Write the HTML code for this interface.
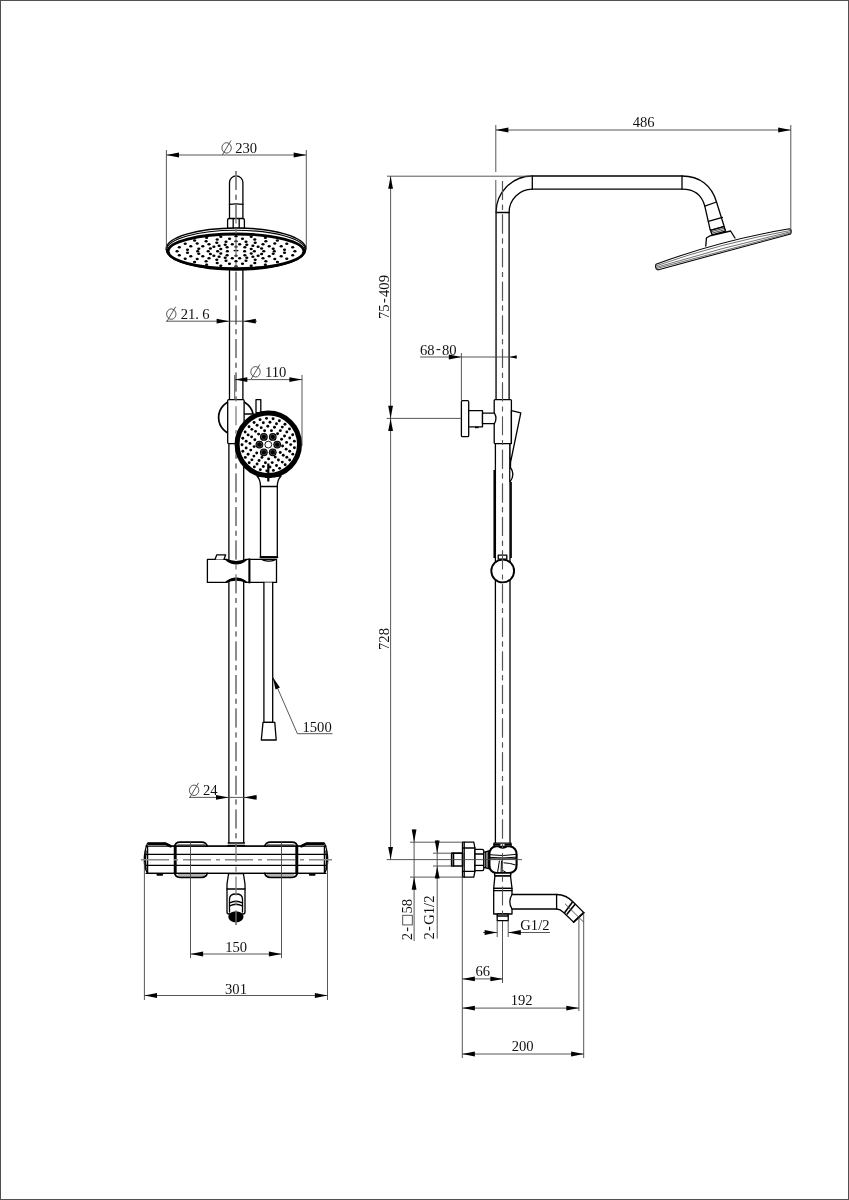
<!DOCTYPE html>
<html><head><meta charset="utf-8"><title>Shower column drawing</title>
<style>
html,body{margin:0;padding:0;background:#fff;}
body{width:849px;height:1200px;overflow:hidden;position:relative;font-family:"Liberation Serif",serif;}
svg{position:absolute;left:0;top:0;display:block;will-change:transform}
.o{fill:none;stroke:#000;stroke-width:1.3;stroke-linejoin:round;stroke-linecap:round}
.ow{fill:#fff;stroke:#000;stroke-width:1.3;stroke-linejoin:round;stroke-linecap:round}
.t{fill:none;stroke:#000;stroke-width:2.1;stroke-linejoin:round;stroke-linecap:round}
.tw{fill:#fff;stroke:#000;stroke-width:2.1;stroke-linejoin:round}
.d{fill:none;stroke:#444;stroke-width:0.9}
.c{fill:none;stroke:#7a7a7a;stroke-width:1.25;stroke-dasharray:19 4.8 5 4.8}
.c2{fill:none;stroke:#555;stroke-width:1.1;stroke-dasharray:19 4.8 5 4.8}
.ch{fill:none;stroke:#888;stroke-width:1.5;stroke-dasharray:28 5 4 5}
.a{fill:#000;stroke:none}
.k{fill:#000;stroke:none}
text{font-family:"Liberation Serif",serif;font-size:14.6px;fill:#111}
</style></head><body>
<svg width="849" height="1200" viewBox="0 0 849 1200">
<rect x="0" y="0" width="849" height="1200" fill="#fff"/>
<path d="M0 0H849V1200H0Z M1 1V1199H848V1Z" fill="#505050" fill-rule="evenodd" shape-rendering="crispEdges"/>

<g id="front">
<path class="ow" d="M229.5 402 V182.6 A6.7 6.7 0 0 1 242.9 182.6 V402"/>
<path class="ow" d="M228.9 842.6 V440 M243.7 440 V842.6"/>
<path class="o" d="M229.5 204.4 Q236.2 203.4 242.9 204.4"/>
<line class="c" x1="236.00" y1="171.00" x2="236.00" y2="925.00"/>
<circle class="tw" cx="236" cy="417.5" r="17.4" style="stroke-width:1.7"/>
<line class="o" x1="244.00" y1="414.00" x2="252.00" y2="414.00"/>
<rect class="ow" x="227.7" y="399.6" width="16.4" height="44" rx="1"/>
<rect class="ow" x="256" y="399.6" width="4.8" height="13"/>
<path class="ow" d="M257 476 Q260.5 480 260.5 486 V557 H277.3 V486 Q277.3 480 281 476 Z"/>
<line class="o" x1="260.50" y1="486.50" x2="277.30" y2="486.50"/>
<circle cx="268.3" cy="444.3" r="31.2" fill="#fff" stroke="#000" stroke-width="5"/>
<circle class="k" cx="282.53" cy="446.03" r="1.45"/>
<circle class="k" cx="280.24" cy="452.48" r="1.45"/>
<circle class="k" cx="275.21" cy="457.12" r="1.45"/>
<circle class="k" cx="268.60" cy="458.90" r="1.45"/>
<circle class="k" cx="261.92" cy="457.40" r="1.45"/>
<circle class="k" cx="256.70" cy="452.97" r="1.45"/>
<circle class="k" cx="254.14" cy="446.62" r="1.45"/>
<circle class="k" cx="254.83" cy="439.81" r="1.45"/>
<circle class="k" cx="258.60" cy="434.10" r="1.45"/>
<circle class="k" cx="264.59" cy="430.79" r="1.45"/>
<circle class="k" cx="271.43" cy="430.65" r="1.45"/>
<circle class="k" cx="277.56" cy="433.70" r="1.45"/>
<circle class="k" cx="281.56" cy="439.25" r="1.45"/>
<circle class="k" cx="286.13" cy="449.15" r="1.45"/>
<circle class="k" cx="283.28" cy="455.29" r="1.45"/>
<circle class="k" cx="278.41" cy="459.97" r="1.45"/>
<circle class="k" cx="272.17" cy="462.59" r="1.45"/>
<circle class="k" cx="265.41" cy="462.77" r="1.45"/>
<circle class="k" cx="259.04" cy="460.50" r="1.45"/>
<circle class="k" cx="253.92" cy="456.08" r="1.45"/>
<circle class="k" cx="250.75" cy="450.11" r="1.45"/>
<circle class="k" cx="249.94" cy="443.40" r="1.45"/>
<circle class="k" cx="251.61" cy="436.85" r="1.45"/>
<circle class="k" cx="255.54" cy="431.34" r="1.45"/>
<circle class="k" cx="261.19" cy="427.63" r="1.45"/>
<circle class="k" cx="267.80" cy="426.21" r="1.45"/>
<circle class="k" cx="274.48" cy="427.27" r="1.45"/>
<circle class="k" cx="280.32" cy="430.67" r="1.45"/>
<circle class="k" cx="284.54" cy="435.95" r="1.45"/>
<circle class="k" cx="286.57" cy="442.40" r="1.45"/>
<circle class="k" cx="290.70" cy="444.60" r="1.45"/>
<circle class="k" cx="289.70" cy="451.20" r="1.45"/>
<circle class="k" cx="286.81" cy="457.22" r="1.45"/>
<circle class="k" cx="282.27" cy="462.11" r="1.45"/>
<circle class="k" cx="276.48" cy="465.45" r="1.45"/>
<circle class="k" cx="269.97" cy="466.94" r="1.45"/>
<circle class="k" cx="263.32" cy="466.44" r="1.45"/>
<circle class="k" cx="257.10" cy="464.00" r="1.45"/>
<circle class="k" cx="251.88" cy="459.84" r="1.45"/>
<circle class="k" cx="248.12" cy="454.32" r="1.45"/>
<circle class="k" cx="246.15" cy="447.94" r="1.45"/>
<circle class="k" cx="246.15" cy="441.26" r="1.45"/>
<circle class="k" cx="248.12" cy="434.88" r="1.45"/>
<circle class="k" cx="251.88" cy="429.36" r="1.45"/>
<circle class="k" cx="257.10" cy="425.20" r="1.45"/>
<circle class="k" cx="263.32" cy="422.76" r="1.45"/>
<circle class="k" cx="269.97" cy="422.26" r="1.45"/>
<circle class="k" cx="276.48" cy="423.75" r="1.45"/>
<circle class="k" cx="282.27" cy="427.09" r="1.45"/>
<circle class="k" cx="286.81" cy="431.98" r="1.45"/>
<circle class="k" cx="289.70" cy="438.00" r="1.45"/>
<circle class="k" cx="294.41" cy="447.75" r="1.45"/>
<circle class="k" cx="292.81" cy="454.14" r="1.45"/>
<circle class="k" cx="289.66" cy="459.94" r="1.45"/>
<circle class="k" cx="285.18" cy="464.77" r="1.45"/>
<circle class="k" cx="279.63" cy="468.33" r="1.45"/>
<circle class="k" cx="273.37" cy="470.41" r="1.45"/>
<circle class="k" cx="266.80" cy="470.86" r="1.45"/>
<circle class="k" cx="260.31" cy="469.66" r="1.45"/>
<circle class="k" cx="254.33" cy="466.89" r="1.45"/>
<circle class="k" cx="249.23" cy="462.71" r="1.45"/>
<circle class="k" cx="245.33" cy="457.40" r="1.45"/>
<circle class="k" cx="242.86" cy="451.28" r="1.45"/>
<circle class="k" cx="242.00" cy="444.75" r="1.45"/>
<circle class="k" cx="242.79" cy="438.20" r="1.45"/>
<circle class="k" cx="245.18" cy="432.06" r="1.45"/>
<circle class="k" cx="249.03" cy="426.71" r="1.45"/>
<circle class="k" cx="254.08" cy="422.47" r="1.45"/>
<circle class="k" cx="260.03" cy="419.63" r="1.45"/>
<circle class="k" cx="266.50" cy="418.36" r="1.45"/>
<circle class="k" cx="273.08" cy="418.74" r="1.45"/>
<circle class="k" cx="279.36" cy="420.74" r="1.45"/>
<circle class="k" cx="284.95" cy="424.24" r="1.45"/>
<circle class="k" cx="289.49" cy="429.02" r="1.45"/>
<circle class="k" cx="292.70" cy="434.78" r="1.45"/>
<circle class="k" cx="294.37" cy="441.16" r="1.45"/>
<circle cx="277.20" cy="444.60" r="3.9" fill="#000"/>
<circle cx="277.20" cy="444.60" r="2.6" fill="none" stroke="#777" stroke-width="0.6"/>
<circle cx="272.75" cy="452.31" r="3.9" fill="#000"/>
<circle cx="272.75" cy="452.31" r="2.6" fill="none" stroke="#777" stroke-width="0.6"/>
<circle cx="263.85" cy="452.31" r="3.9" fill="#000"/>
<circle cx="263.85" cy="452.31" r="2.6" fill="none" stroke="#777" stroke-width="0.6"/>
<circle cx="259.40" cy="444.60" r="3.9" fill="#000"/>
<circle cx="259.40" cy="444.60" r="2.6" fill="none" stroke="#777" stroke-width="0.6"/>
<circle cx="263.85" cy="436.89" r="3.9" fill="#000"/>
<circle cx="263.85" cy="436.89" r="2.6" fill="none" stroke="#777" stroke-width="0.6"/>
<circle cx="272.75" cy="436.89" r="3.9" fill="#000"/>
<circle cx="272.75" cy="436.89" r="2.6" fill="none" stroke="#777" stroke-width="0.6"/>
<circle cx="268.30" cy="444.60" r="3.4" fill="#fff" stroke="#000" stroke-width="0.9"/>
<path d="M268.3 463.5 V481.5 M265.2 477 H271.4" stroke="#000" stroke-width="2.2" fill="none"/>
<path class="ow" d="M207.4 559.4 H226.5 Q236.2 567.5 246 559.4 H276.5 V582.4 H246 Q236.2 574.5 226.5 582.4 H207.4 Z"/>
<path d="M226 559.6 Q236.2 567.8 246.4 559.6 Q236.2 564 226 559.6Z M226 582.2 Q236.2 574.2 246.4 582.2 Q236.2 577.8 226 582.2Z" fill="#000" stroke="#000" stroke-width="1.6"/>
<line class="t" x1="249.40" y1="559.40" x2="249.40" y2="582.40"/>
<path class="ow" d="M215 559.4 L216.8 554.8 H225.7 L223.9 559.4"/>
<path class="o" d="M262.5 559.8 Q269 562.6 275 559.8"/>
<line class="t" x1="260.50" y1="557.30" x2="277.30" y2="557.30"/>
<path class="ow" d="M263.9 582.4 V722.4 H272.7 V582.4"/>
<path class="ow" d="M263 722.4 H274.8 L276.2 740 H261.3 Z"/>
<path class="ow" d="M227.6 228.4 V220 Q227.6 218.5 229.4 218.5 H242.6 Q244.4 218.5 244.4 220 V228.4 Z"/>
<line class="o" x1="233.20" y1="218.80" x2="233.20" y2="228.00"/>
<line class="o" x1="239.20" y1="218.80" x2="239.20" y2="228.00"/>
<ellipse cx="236" cy="249" rx="69.8" ry="21" fill="#fff" stroke="#000" stroke-width="1.5"/>
<ellipse cx="236" cy="249.9" rx="69.2" ry="19.6" fill="none" stroke="#000" stroke-width="1.1"/>
<ellipse cx="236" cy="251.3" rx="67.9" ry="17.3" fill="#fff" stroke="#000" stroke-width="2.8"/>
<ellipse class="k" cx="242.50" cy="238.65" rx="1.6" ry="1.25"/>
<ellipse class="k" cx="242.50" cy="263.85" rx="1.6" ry="1.25"/>
<ellipse class="k" cx="229.50" cy="238.65" rx="1.6" ry="1.25"/>
<ellipse class="k" cx="229.50" cy="263.85" rx="1.6" ry="1.25"/>
<ellipse class="k" cx="239.70" cy="244.15" rx="1.6" ry="1.25"/>
<ellipse class="k" cx="239.70" cy="258.35" rx="1.6" ry="1.25"/>
<ellipse class="k" cx="232.30" cy="244.15" rx="1.6" ry="1.25"/>
<ellipse class="k" cx="232.30" cy="258.35" rx="1.6" ry="1.25"/>
<ellipse class="k" cx="246.00" cy="241.75" rx="1.6" ry="1.25"/>
<ellipse class="k" cx="246.00" cy="260.75" rx="1.6" ry="1.25"/>
<ellipse class="k" cx="226.00" cy="241.75" rx="1.6" ry="1.25"/>
<ellipse class="k" cx="226.00" cy="260.75" rx="1.6" ry="1.25"/>
<ellipse class="k" cx="246.80" cy="244.65" rx="1.6" ry="1.25"/>
<ellipse class="k" cx="246.80" cy="257.85" rx="1.6" ry="1.25"/>
<ellipse class="k" cx="225.20" cy="244.65" rx="1.6" ry="1.25"/>
<ellipse class="k" cx="225.20" cy="257.85" rx="1.6" ry="1.25"/>
<ellipse class="k" cx="244.90" cy="247.25" rx="1.6" ry="1.25"/>
<ellipse class="k" cx="244.90" cy="255.25" rx="1.6" ry="1.25"/>
<ellipse class="k" cx="227.10" cy="247.25" rx="1.6" ry="1.25"/>
<ellipse class="k" cx="227.10" cy="255.25" rx="1.6" ry="1.25"/>
<ellipse class="k" cx="251.20" cy="236.65" rx="1.6" ry="1.25"/>
<ellipse class="k" cx="251.20" cy="265.85" rx="1.6" ry="1.25"/>
<ellipse class="k" cx="220.80" cy="236.65" rx="1.6" ry="1.25"/>
<ellipse class="k" cx="220.80" cy="265.85" rx="1.6" ry="1.25"/>
<ellipse class="k" cx="254.80" cy="239.55" rx="1.6" ry="1.25"/>
<ellipse class="k" cx="254.80" cy="262.95" rx="1.6" ry="1.25"/>
<ellipse class="k" cx="217.20" cy="239.55" rx="1.6" ry="1.25"/>
<ellipse class="k" cx="217.20" cy="262.95" rx="1.6" ry="1.25"/>
<ellipse class="k" cx="255.20" cy="242.85" rx="1.6" ry="1.25"/>
<ellipse class="k" cx="255.20" cy="259.65" rx="1.6" ry="1.25"/>
<ellipse class="k" cx="216.80" cy="242.85" rx="1.6" ry="1.25"/>
<ellipse class="k" cx="216.80" cy="259.65" rx="1.6" ry="1.25"/>
<ellipse class="k" cx="252.90" cy="245.65" rx="1.6" ry="1.25"/>
<ellipse class="k" cx="252.90" cy="256.85" rx="1.6" ry="1.25"/>
<ellipse class="k" cx="219.10" cy="245.65" rx="1.6" ry="1.25"/>
<ellipse class="k" cx="219.10" cy="256.85" rx="1.6" ry="1.25"/>
<ellipse class="k" cx="251.20" cy="248.95" rx="1.6" ry="1.25"/>
<ellipse class="k" cx="251.20" cy="253.55" rx="1.6" ry="1.25"/>
<ellipse class="k" cx="220.80" cy="248.95" rx="1.6" ry="1.25"/>
<ellipse class="k" cx="220.80" cy="253.55" rx="1.6" ry="1.25"/>
<ellipse class="k" cx="258.10" cy="246.85" rx="1.6" ry="1.25"/>
<ellipse class="k" cx="258.10" cy="255.65" rx="1.6" ry="1.25"/>
<ellipse class="k" cx="213.90" cy="246.85" rx="1.6" ry="1.25"/>
<ellipse class="k" cx="213.90" cy="255.65" rx="1.6" ry="1.25"/>
<ellipse class="k" cx="261.60" cy="248.45" rx="1.6" ry="1.25"/>
<ellipse class="k" cx="261.60" cy="254.05" rx="1.6" ry="1.25"/>
<ellipse class="k" cx="210.40" cy="248.45" rx="1.6" ry="1.25"/>
<ellipse class="k" cx="210.40" cy="254.05" rx="1.6" ry="1.25"/>
<ellipse class="k" cx="265.40" cy="237.65" rx="1.6" ry="1.25"/>
<ellipse class="k" cx="265.40" cy="264.85" rx="1.6" ry="1.25"/>
<ellipse class="k" cx="206.60" cy="237.65" rx="1.6" ry="1.25"/>
<ellipse class="k" cx="206.60" cy="264.85" rx="1.6" ry="1.25"/>
<ellipse class="k" cx="265.90" cy="241.15" rx="1.6" ry="1.25"/>
<ellipse class="k" cx="265.90" cy="261.35" rx="1.6" ry="1.25"/>
<ellipse class="k" cx="206.10" cy="241.15" rx="1.6" ry="1.25"/>
<ellipse class="k" cx="206.10" cy="261.35" rx="1.6" ry="1.25"/>
<ellipse class="k" cx="263.00" cy="244.25" rx="1.6" ry="1.25"/>
<ellipse class="k" cx="263.00" cy="258.25" rx="1.6" ry="1.25"/>
<ellipse class="k" cx="209.00" cy="244.25" rx="1.6" ry="1.25"/>
<ellipse class="k" cx="209.00" cy="258.25" rx="1.6" ry="1.25"/>
<ellipse class="k" cx="269.20" cy="246.25" rx="1.6" ry="1.25"/>
<ellipse class="k" cx="269.20" cy="256.25" rx="1.6" ry="1.25"/>
<ellipse class="k" cx="202.80" cy="246.25" rx="1.6" ry="1.25"/>
<ellipse class="k" cx="202.80" cy="256.25" rx="1.6" ry="1.25"/>
<ellipse class="k" cx="273.20" cy="248.85" rx="1.6" ry="1.25"/>
<ellipse class="k" cx="273.20" cy="253.65" rx="1.6" ry="1.25"/>
<ellipse class="k" cx="198.80" cy="248.85" rx="1.6" ry="1.25"/>
<ellipse class="k" cx="198.80" cy="253.65" rx="1.6" ry="1.25"/>
<ellipse class="k" cx="274.80" cy="243.55" rx="1.6" ry="1.25"/>
<ellipse class="k" cx="274.80" cy="258.95" rx="1.6" ry="1.25"/>
<ellipse class="k" cx="197.20" cy="243.55" rx="1.6" ry="1.25"/>
<ellipse class="k" cx="197.20" cy="258.95" rx="1.6" ry="1.25"/>
<ellipse class="k" cx="281.20" cy="246.35" rx="1.6" ry="1.25"/>
<ellipse class="k" cx="281.20" cy="256.15" rx="1.6" ry="1.25"/>
<ellipse class="k" cx="190.80" cy="246.35" rx="1.6" ry="1.25"/>
<ellipse class="k" cx="190.80" cy="256.15" rx="1.6" ry="1.25"/>
<ellipse class="k" cx="284.50" cy="249.65" rx="1.6" ry="1.25"/>
<ellipse class="k" cx="284.50" cy="252.85" rx="1.6" ry="1.25"/>
<ellipse class="k" cx="187.50" cy="249.65" rx="1.6" ry="1.25"/>
<ellipse class="k" cx="187.50" cy="252.85" rx="1.6" ry="1.25"/>
<ellipse class="k" cx="277.40" cy="240.45" rx="1.6" ry="1.25"/>
<ellipse class="k" cx="277.40" cy="262.05" rx="1.6" ry="1.25"/>
<ellipse class="k" cx="194.60" cy="240.45" rx="1.6" ry="1.25"/>
<ellipse class="k" cx="194.60" cy="262.05" rx="1.6" ry="1.25"/>
<ellipse class="k" cx="286.80" cy="243.75" rx="1.6" ry="1.25"/>
<ellipse class="k" cx="286.80" cy="258.75" rx="1.6" ry="1.25"/>
<ellipse class="k" cx="185.20" cy="243.75" rx="1.6" ry="1.25"/>
<ellipse class="k" cx="185.20" cy="258.75" rx="1.6" ry="1.25"/>
<ellipse class="k" cx="292.70" cy="247.25" rx="1.6" ry="1.25"/>
<ellipse class="k" cx="292.70" cy="255.25" rx="1.6" ry="1.25"/>
<ellipse class="k" cx="179.30" cy="247.25" rx="1.6" ry="1.25"/>
<ellipse class="k" cx="179.30" cy="255.25" rx="1.6" ry="1.25"/>
<ellipse class="k" cx="236.00" cy="236.25" rx="1.6" ry="1.25"/>
<ellipse class="k" cx="236.00" cy="241.25" rx="1.6" ry="1.25"/>
<ellipse class="k" cx="236.00" cy="246.85" rx="1.6" ry="1.25"/>
<ellipse class="k" cx="236.00" cy="255.65" rx="1.6" ry="1.25"/>
<ellipse class="k" cx="236.00" cy="261.25" rx="1.6" ry="1.25"/>
<ellipse class="k" cx="236.00" cy="266.25" rx="1.6" ry="1.25"/>
<ellipse class="k" cx="244.60" cy="251.25" rx="1.6" ry="1.25"/>
<ellipse class="k" cx="227.40" cy="251.25" rx="1.6" ry="1.25"/>
<ellipse class="k" cx="254.40" cy="251.25" rx="1.6" ry="1.25"/>
<ellipse class="k" cx="217.60" cy="251.25" rx="1.6" ry="1.25"/>
<ellipse class="k" cx="263.80" cy="251.25" rx="1.6" ry="1.25"/>
<ellipse class="k" cx="208.20" cy="251.25" rx="1.6" ry="1.25"/>
<ellipse class="k" cx="274.30" cy="251.25" rx="1.6" ry="1.25"/>
<ellipse class="k" cx="197.70" cy="251.25" rx="1.6" ry="1.25"/>
<ellipse class="k" cx="294.90" cy="251.25" rx="1.6" ry="1.25"/>
<ellipse class="k" cx="177.10" cy="251.25" rx="1.6" ry="1.25"/>
<path d="M233.6 250.6 H238.4" stroke="#000" stroke-width="1.4"/>
<path class="ow" d="M148 842.9 H165.4 L171.8 846.2 H176 V873.3 H147.6 Q144.3 868 144.3 859.9 Q144.3 851 147.2 844 Q147.5 842.9 148 842.9 Z"/>
<path class="ow" d="M324 842.9 H306.6 L300.2 846.2 H296 V873.3 H324.4 Q327.7 868 327.7 859.9 Q327.7 851 324.8 844 Q324.5 842.9 324 842.9 Z"/>
<path class="t" style="stroke-width:2.3" d="M148.6 843.8 H165.2 L170.6 846.4"/>
<path class="t" style="stroke-width:2.3" d="M323.4 843.8 H306.8 L301.4 846.4"/>
<path class="o" d="M147.6 846.2 V873.3 M146 851 Q145 859.9 146 869"/>
<path class="o" d="M324.4 846.2 V873.3 M326 851 Q327 859.9 326 869"/>
<rect x="156.5" y="873.6" width="6.6" height="2.1" rx="1" fill="#000"/>
<rect x="308.9" y="873.6" width="6.6" height="2.1" rx="1" fill="#000"/>
<rect class="ow" x="176" y="846.2" width="120" height="27.2"/>
<line class="o" x1="146.00" y1="846.20" x2="326.00" y2="846.20"/>
<line class="o" x1="146.00" y1="854.30" x2="326.00" y2="854.30"/>
<line class="o" x1="146.00" y1="865.30" x2="326.00" y2="865.30"/>
<line class="o" x1="146.00" y1="873.30" x2="326.00" y2="873.30"/>
<path class="t" style="stroke-width:1.8" d="M207.2 846.2 Q206.2 842.2 201.5 842.2 H180 Q174.9 842.2 174.9 847 V872.6 Q174.9 877.4 180 877.4 H201.5 Q206.2 877.4 207.2 873.4"/>
<path class="t" style="stroke-width:1.8" d="M264.8 846.2 Q265.8 842.2 270.5 842.2 H292 Q297.1 842.2 297.1 847 V872.6 Q297.1 877.4 292 877.4 H270.5 Q265.8 877.4 264.8 873.4"/>
<path class="t" style="stroke-width:2.3" d="M174.9 846 V873.6 M297.1 846 V873.6"/>
<path class="o" style="stroke-width:0.6" d="M178 844.7 H204.6 M178 875 H204.6 M267.4 844.7 H294 M267.4 875 H294"/>
<line class="o" x1="228.10" y1="843.00" x2="244.50" y2="843.00"/>
<line class="o" x1="228.10" y1="845.50" x2="244.50" y2="845.50"/>
<line class="ch" x1="141.00" y1="859.80" x2="332.00" y2="859.80"/>
<path class="ow" d="M228.6 873.6 L227 884 V912 Q227 914 229 914 H243 Q245 914 245 912 V884 L243.4 873.6 Z"/>
<line class="o" x1="227.00" y1="889.00" x2="245.00" y2="889.00"/>
<path class="o" d="M229.5 912 V899 Q229.5 894 236 894 Q242.5 894 242.5 899 V912"/>
<path class="o" d="M229.5 903 Q236 899.5 242.5 903 M229.5 906 Q236 902.5 242.5 906"/>
<ellipse cx="235.9" cy="916.8" rx="7.6" ry="5.6" fill="#000"/>
<defs><clipPath id="cf"><rect x="200" y="0" width="80" height="434"/><rect x="200" y="455" width="80" height="600"/></clipPath></defs>
<g clip-path="url(#cf)"><line class="c" x1="236.00" y1="171.00" x2="236.00" y2="925.00"/></g>
</g>
<g id="fdims">
<line class="d" x1="166.40" y1="150.00" x2="166.40" y2="249.00"/>
<line class="d" x1="306.30" y1="150.00" x2="306.30" y2="249.00"/>
<line class="d" x1="166.40" y1="155.00" x2="306.30" y2="155.00"/>
<polygon class="a" points="166.40,155.00 179.00,152.60 179.00,157.40"/>
<polygon class="a" points="306.30,155.00 293.70,157.40 293.70,152.60"/>
<ellipse class="d" cx="226.60" cy="147.90" rx="4.7" ry="5.2"/><line class="d" x1="222.30" y1="155.10" x2="231.00" y2="140.50"/>
<text x="235.20" y="153.20" text-anchor="start">230</text>
<line class="d" x1="165.90" y1="321.20" x2="257.00" y2="321.20"/>
<polygon class="a" points="229.20,321.20 216.60,323.60 216.60,318.80"/>
<polygon class="a" points="243.20,321.20 255.80,318.80 255.80,323.60"/>
<ellipse class="d" cx="171.30" cy="314.10" rx="4.7" ry="5.2"/><line class="d" x1="167.00" y1="321.30" x2="175.70" y2="306.70"/>
<text x="180.70" y="318.90" text-anchor="start">21.</text>
<text x="202.20" y="318.90" text-anchor="start">6</text>
<line class="d" x1="234.70" y1="379.60" x2="302.00" y2="379.60"/>
<polygon class="a" points="234.70,379.60 247.30,377.20 247.30,382.00"/>
<polygon class="a" points="302.00,379.60 289.40,382.00 289.40,377.20"/>
<line class="d" x1="234.70" y1="375.00" x2="234.70" y2="400.00"/>
<line class="d" x1="302.00" y1="375.00" x2="302.00" y2="446.00"/>
<ellipse class="d" cx="255.50" cy="371.80" rx="4.7" ry="5.2"/><line class="d" x1="251.20" y1="379.00" x2="259.90" y2="364.40"/>
<text x="264.90" y="377.10" text-anchor="start">110</text>
<line class="d" x1="272.70" y1="677.00" x2="297.40" y2="733.70"/>
<line class="d" x1="297.40" y1="733.70" x2="332.50" y2="733.70"/>
<polygon class="a" points="272.70,677.00 279.93,687.59 275.53,689.51"/>
<text x="302.50" y="732.00" text-anchor="start">1500</text>
<line class="d" x1="189.00" y1="797.40" x2="256.50" y2="797.40"/>
<polygon class="a" points="228.60,797.40 216.00,799.80 216.00,795.00"/>
<polygon class="a" points="244.00,797.40 256.60,795.00 256.60,799.80"/>
<ellipse class="d" cx="194.10" cy="790.30" rx="4.7" ry="5.2"/><line class="d" x1="189.80" y1="797.50" x2="198.50" y2="782.90"/>
<text x="203.00" y="794.90" text-anchor="start">24</text>
<line class="d" x1="190.50" y1="841.00" x2="190.50" y2="958.00"/>
<line class="d" x1="281.50" y1="841.00" x2="281.50" y2="958.00"/>
<line class="d" x1="190.50" y1="954.00" x2="281.50" y2="954.00"/>
<polygon class="a" points="190.50,954.00 203.10,951.60 203.10,956.40"/>
<polygon class="a" points="281.50,954.00 268.90,956.40 268.90,951.60"/>
<text x="236.20" y="952.00" text-anchor="middle">150</text>
<line class="d" x1="144.40" y1="862.00" x2="144.40" y2="1000.00"/>
<line class="d" x1="327.50" y1="862.00" x2="327.50" y2="1000.00"/>
<line class="d" x1="144.40" y1="995.50" x2="327.50" y2="995.50"/>
<polygon class="a" points="144.40,995.50 157.00,993.10 157.00,997.90"/>
<polygon class="a" points="327.50,995.50 314.90,997.90 314.90,993.10"/>
<text x="236.00" y="993.80" text-anchor="middle">301</text>
</g>
<g id="side">
<path class="ow" d="M496.05 402 V212.5 A36.3 36.3 0 0 1 532.3 176 H682 C700 176 712 186 716.5 202 L724.2 226.5 L710.3 230.3 L704.8 206.2 C702 195.4 694 189.2 682 189.2 H532.3 A23.2 23.2 0 0 0 509.1 212.5 V402"/>
<path class="ow" d="M495.4 846 V440 M510.0 440 V846"/>
<line class="o" x1="496.05" y1="212.50" x2="509.10" y2="212.50"/>
<line class="o" x1="532.30" y1="176.00" x2="532.30" y2="189.20"/>
<line class="o" x1="682.00" y1="176.00" x2="682.00" y2="189.20"/>
<line class="o" x1="704.80" y1="206.20" x2="716.50" y2="202.00"/>
<line class="o" x1="708.40" y1="221.40" x2="722.40" y2="217.40"/>
<path class="ow" d="M710.6 230.4 L724.2 226.6 L725.6 231.2 L712 234.8 Z"/>
<path class="o" style="stroke-width:0.7" d="M711 231.8 L724.7 228.1 M711.5 233.3 L725.2 229.6"/>
<path class="ow" d="M705.8 246 L706.4 238 L710 235.8 L730.6 231 L735 238"/>
<path class="ow" style="stroke-width:1.05" d="M656 264.2 Q721.1 240.3 789.4 228.8 Q791.6 229.4 791.2 232.2 L790.6 234 L657.6 269.9 Q654.6 268.4 656 264.2 Z"/>
<path class="o" style="stroke-width:0.65;stroke:#222" d="M656 265.9 Q721.5 242.8 790.6 230.4 M656.4 267.3 Q723 247.2 790.8 231.7 M656.8 268.5 L790.9 232.9"/>
<line class="c2" x1="502.50" y1="181.00" x2="502.50" y2="914.00"/>
<line class="d" x1="502.50" y1="920.60" x2="502.50" y2="983.00"/>
<rect class="ow" x="461.4" y="400.7" width="7.3" height="36" rx="1.2"/>
<rect class="ow" x="468.7" y="410.6" width="13.8" height="16.2"/>
<rect x="475" y="426.8" width="3.6" height="1.4" fill="#000"/>
<rect class="ow" x="494.2" y="399.6" width="17.2" height="44" rx="1"/>
<path class="ow" d="M482.5 413.2 H494.4 Q497.6 418.5 494.4 423.7 H482.5 Z"/>
<path class="ow" d="M511.4 410.6 L520.8 412.8 L510.6 462 L510 481.5 V443.6 H511.4 Z"/>
<path class="ow" d="M510.4 467.5 Q515.4 474 510.4 481.2"/>
<path d="M494.3 470 V558 M511 482 V558" stroke="#000" stroke-width="1.7" fill="none"/>
<rect class="ow" x="498.2" y="555.2" width="8.6" height="4"/>
<circle cx="502.7" cy="571" r="11.4" fill="#fff" stroke="#000" stroke-width="1.9"/>
<path class="ow" d="M462.5 842.2 H473.8 L474.9 848 V871.4 L473.8 877.1 H462.5 Z"/>
<line class="o" x1="462.50" y1="848.00" x2="474.90" y2="848.00"/>
<line class="o" x1="462.50" y1="871.40" x2="474.90" y2="871.40"/>
<line class="o" x1="464.20" y1="842.20" x2="464.20" y2="877.10"/>
<rect class="tw" x="451.7" y="853.2" width="10.8" height="12.8" style="stroke-width:1.7"/>
<line class="o" x1="453.60" y1="853.20" x2="453.60" y2="866.00"/>
<path class="ow" d="M475 849.4 H482.2 Q483.8 849.4 483.8 851 V869 Q483.8 870.6 482.2 870.6 H475 Z"/>
<line class="o" x1="475.00" y1="854.00" x2="483.80" y2="854.00"/>
<line class="o" x1="475.00" y1="865.30" x2="483.80" y2="865.30"/>
<path class="ow" d="M483.8 852.4 L489.6 850.6 V868.8 L483.8 867.4 Z"/>
<path class="o" style="stroke-width:1" d="M485.4 852.2 V867.6 M487 851.8 V868 M488.4 851.4 V868.4"/>
<path class="tw" d="M496 846.3 H509.6 Q516.6 847.5 516.6 854.5 V865 Q516.6 872 509.6 873.1 H496 Q489.4 872 489.4 865 V854.5 Q489.4 847.5 496 846.3 Z"/>
<path class="o" style="stroke-width:1" d="M490.4 854.8 Q503 856.6 515.8 854.4 M490.2 857.4 Q503 858.6 515.8 857.2 M490.2 858.9 Q503 859.4 515.8 858.7 M499.4 861 L497.6 872.4 M501.5 861 L501.1 872.6 M504 862.8 Q510 863 515.2 864.8 M503 870.6 L506.4 872.6"/>
<path class="ow" d="M494 843.1 H511 V846.3 H494 Z"/>
<path class="t" d="M494.4 844.7 H499.6 M505.4 844.7 H510.6 M499.6 846.8 Q502.7 848.6 505.8 846.8"/>
<path class="t" d="M494.9 874.6 H499.4 M505.6 874.6 H510.4"/>
<path class="ow" d="M494.7 873.1 H510.6 V876 H494.7 Z"/>
<path class="ow" d="M494.9 876 L493.7 888.4 H512 L510.5 876 Z"/>
<path class="ow" d="M493.7 888.4 H512 V914 H493.7 Z"/>
<line class="o" x1="493.70" y1="890.60" x2="512.00" y2="890.60"/>
<path class="ow" d="M512 894.5 H556.6 Q566.5 894.8 573.2 902 L583.8 912.6 L573.6 922.1 L563.3 912.2 Q560.4 909.2 556.6 909 H512 Q507.6 901.8 512 894.5 Z"/>
<line class="o" x1="556.60" y1="894.50" x2="556.60" y2="909.00"/>
<path d="M564.4 912.9 L572.5 902 M566.7 914.6 L575.3 904.1" stroke="#000" stroke-width="1.6" fill="none"/>
<line class="d" x1="565.00" y1="903.70" x2="583.50" y2="922.00"/>
<path d="M583.8 912.6 L573.6 922.1" stroke="#000" stroke-width="1.8" fill="none" stroke-linecap="round"/>
<rect class="ow" x="497.2" y="914" width="11" height="6.6"/>
<line class="o" x1="497.20" y1="916.00" x2="508.20" y2="916.00"/>
<line class="c2" x1="502.50" y1="181.00" x2="502.50" y2="914.00"/>
</g>
<g id="sdims">
<line class="d" x1="495.80" y1="125.00" x2="495.80" y2="172.00"/>
<line class="d" x1="495.80" y1="180.00" x2="495.80" y2="213.00"/>
<line class="d" x1="790.80" y1="125.00" x2="790.80" y2="231.00"/>
<line class="d" x1="495.80" y1="130.00" x2="790.80" y2="130.00"/>
<polygon class="a" points="495.80,130.00 508.40,127.60 508.40,132.40"/>
<polygon class="a" points="790.80,130.00 778.20,132.40 778.20,127.60"/>
<text x="643.70" y="126.50" text-anchor="middle">486</text>
<line class="d" x1="387.00" y1="176.20" x2="532.00" y2="176.20"/>
<line class="d" x1="386.60" y1="418.40" x2="461.40" y2="418.40"/>
<line class="d" x1="386.60" y1="859.60" x2="452.00" y2="859.60"/>
<line class="d" x1="390.60" y1="176.20" x2="390.60" y2="859.60"/>
<polygon class="a" points="390.60,176.20 393.00,188.80 388.20,188.80"/>
<polygon class="a" points="390.60,418.40 388.20,405.80 393.00,405.80"/>
<polygon class="a" points="390.60,418.40 393.00,431.00 388.20,431.00"/>
<polygon class="a" points="390.60,859.60 388.20,847.00 393.00,847.00"/>
<text x="389.00" y="297.00" text-anchor="middle" transform="rotate(-90 389.00 297.00)">75<tspan dx="1.3" dy="-1.3">-</tspan><tspan dx="1.3" dy="1.3">409</tspan></text>
<text x="389.00" y="639.00" text-anchor="middle" transform="rotate(-90 389.00 639.00)">728</text>
<line class="d" x1="420.00" y1="357.00" x2="516.80" y2="357.00"/>
<polygon class="a" points="461.40,357.00 448.80,359.40 448.80,354.60"/>
<polygon class="a" points="509.50,357.00 516.70,355.20 516.70,358.80"/>
<line class="d" x1="461.40" y1="353.00" x2="461.40" y2="401.00"/>
<text x="420.00" y="354.60" text-anchor="start">68<tspan dx="1.3" dy="-1.3">-</tspan><tspan dx="1.3" dy="1.3">80</tspan></text>
<line class="d" x1="410.00" y1="842.20" x2="462.50" y2="842.20"/>
<line class="d" x1="410.00" y1="877.10" x2="462.50" y2="877.10"/>
<line class="d" x1="414.10" y1="829.00" x2="414.10" y2="941.00"/>
<polygon class="a" points="414.10,842.20 411.70,829.60 416.50,829.60"/>
<polygon class="a" points="414.10,877.10 416.50,889.70 411.70,889.70"/>
<g transform="rotate(-90 412.2 940.3)"><text x="412.20" y="940.30" text-anchor="start">2<tspan dx="1.3" dy="-1.3">-</tspan><tspan dx="1.3" dy="1.3"></tspan></text><rect class="d" x="427.6" y="930.8" width="9.6" height="9.6"/><text x="438.90" y="940.30" text-anchor="start">58</text></g>
<line class="d" x1="433.00" y1="853.20" x2="451.70" y2="853.20"/>
<line class="d" x1="433.00" y1="866.00" x2="451.70" y2="866.00"/>
<line class="d" x1="437.20" y1="840.00" x2="437.20" y2="938.60"/>
<polygon class="a" points="437.20,853.20 434.80,840.60 439.60,840.60"/>
<polygon class="a" points="437.20,866.00 439.60,878.60 434.80,878.60"/>
<text x="434.40" y="939.50" text-anchor="start" transform="rotate(-90 434.40 939.50)">2<tspan dx="1.3" dy="-1.3">-</tspan><tspan dx="1.3" dy="1.3">G1/2</tspan></text>
<line class="d" x1="452.00" y1="859.60" x2="522.00" y2="859.60"/>
<line class="d" x1="483.00" y1="932.50" x2="497.20" y2="932.50"/>
<line class="d" x1="508.20" y1="932.50" x2="550.00" y2="932.50"/>
<polygon class="a" points="497.20,932.50 484.60,934.90 484.60,930.10"/>
<polygon class="a" points="508.20,932.50 520.80,930.10 520.80,934.90"/>
<line class="d" x1="497.20" y1="920.60" x2="497.20" y2="937.00"/>
<line class="d" x1="508.20" y1="920.60" x2="508.20" y2="937.00"/>
<text x="520.30" y="929.70" text-anchor="start">G1/2</text>
<line class="d" x1="462.30" y1="877.10" x2="462.30" y2="1058.00"/>
<line class="d" x1="462.30" y1="978.90" x2="503.00" y2="978.90"/>
<polygon class="a" points="462.30,978.90 474.90,976.50 474.90,981.30"/>
<polygon class="a" points="503.00,978.90 490.40,981.30 490.40,976.50"/>
<text x="482.70" y="976.30" text-anchor="middle">66</text>
<line class="d" x1="578.90" y1="916.00" x2="578.90" y2="1011.00"/>
<line class="d" x1="583.70" y1="913.40" x2="583.70" y2="1058.00"/>
<line class="d" x1="462.30" y1="1008.10" x2="578.90" y2="1008.10"/>
<polygon class="a" points="462.30,1008.10 474.90,1005.70 474.90,1010.50"/>
<polygon class="a" points="578.90,1008.10 566.30,1010.50 566.30,1005.70"/>
<text x="521.60" y="1004.50" text-anchor="middle">192</text>
<line class="d" x1="462.30" y1="1054.00" x2="583.70" y2="1054.00"/>
<polygon class="a" points="462.30,1054.00 474.90,1051.60 474.90,1056.40"/>
<polygon class="a" points="583.70,1054.00 571.10,1056.40 571.10,1051.60"/>
<text x="522.70" y="1051.00" text-anchor="middle">200</text>
</g>
</svg></body></html>
